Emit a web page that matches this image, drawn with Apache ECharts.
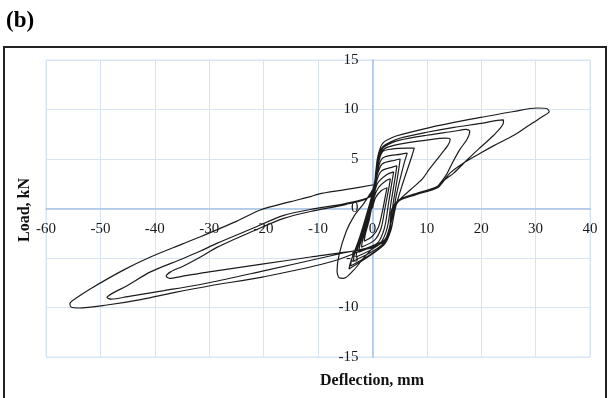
<!DOCTYPE html>
<html>
<head>
<meta charset="utf-8">
<script src="https://cdn.jsdelivr.net/npm/echarts@6/dist/echarts.min.js"></script>
<style>
  html, body { margin: 0; padding: 0; background: #fff; }
  #chart { width: 609px; height: 398px; }
</style>
</head>
<body>
<div id="chart"></div>
<script>
// axis ranges (mm / kN)
const xRange = [-60, 40];
const yRange = [-15, 15];
const xStep = 10;
const yStep = 5;

// small cycles near the origin
const loop1 = [[0,0],[0.6,1.1],[1.6,1.8],[2.7,2.1],[2.4,1.3],[1.8,-0.4],[1.1,-1.9],[0,-2.8],[-1.5,-3.3],[-1.3,-2.6],[-0.6,-1.2],[0.2,0.9]];
const loop2 = [[1.1,2.1],[2.5,2.8],[3.3,3.0],[3.0,2.0],[2.3,0],[1.6,-2.0],[0.4,-3.2],[-2.0,-3.9],[-1.8,-3.2],[-0.9,-1.6],[0.1,0.7]];
const loop3 = [[0.9,2.5],[2.6,3.4],[3.9,3.7],[3.6,2.7],[2.9,0.3],[2.2,-2.0],[0.9,-3.5],[-2.5,-4.4],[-2.3,-3.7],[-1.2,-1.8],[-0.1,0.5]];
const loop4 = [[0.8,2.8],[1.7,3.8],[3.8,4.2],[4.5,4.3],[4.2,3.2],[3.4,0.5],[2.7,-2.0],[1.3,-3.6],[-3.0,-4.9],[-2.8,-4.2],[-1.6,-2.2],[-0.3,0.4]];
const loop5 = [[0.8,3.2],[1.8,4.5],[4.3,4.9],[5.1,5.0],[4.8,3.8],[3.9,0.8],[3.1,-2.0],[1.7,-3.7],[-3.5,-5.3],[-3.3,-4.6],[-1.9,-2.5],[-0.4,0.4]];
const loop6 = [[0.9,3.7],[1.9,5.1],[5.3,5.5],[6.4,5.6],[5.8,4.5],[4.5,1.6],[3.5,-1.3],[2.1,-3.6],[-4.0,-5.8],[-3.8,-5.1],[-2.2,-2.8],[-0.5,0.3]];
const loop7 = [[0.9,4.0],[1.8,5.7],[3.5,6.0],[6.5,6.1],[7.7,6.1],[7.2,5.2],[5.5,2.4],[4.2,0],[3.4,-2.2],[2.1,-3.7],[-4.3,-6.1],[-4.0,-5.4],[-2.4,-3.0],[-0.5,0.5]];

// larger cycles
const loopA = [[0.3,2.2],[0.8,4.3],[1.4,5.5],[2.4,6.1],[5,6.5],[10,6.9],[13.5,7.1],[14.3,7.0],[13.9,6.4],[12.5,5.4],[10.5,4.0],[9.2,3.0],[7,1.9],[5.2,1.0],[4.2,0.2],[3.5,-1.2],[3.1,-2.6],[2.0,-3.4],[0.3,-3.9],[-1.6,-5.0],[-3.4,-6.2],[-5.3,-7.05],[-6.1,-7.0],[-6.5,-6.3],[-6.1,-4.6],[-4.8,-2.3],[-3.4,-0.8],[-1.6,0.5],[-0.4,1.5],[0.3,2.2]];
const loopB = [[0.7,4.1],[1.2,5.4],[1.9,6.1],[3,6.5],[5,6.9],[10,7.4],[15,7.8],[17.2,8.0],[17.9,7.8],[17.4,7.0],[16.0,5.9],[14.6,4.5],[13.7,3.5],[12.8,2.8],[11.7,2.1],[8,1.4],[5,0.8],[3.6,-0.3],[3.2,-2.3],[2.2,-3.2],[0.4,-3.9],[-5,-4.4],[-11.4,-4.9],[-20,-5.6],[-30,-6.4],[-35,-6.85],[-37.3,-7.05],[-37.9,-6.85],[-37.1,-6.4],[-34.7,-5.8],[-31.6,-4.9],[-28.5,-3.9],[-22,-2.3],[-16.3,-1.0],[-11.4,-0.3],[-5,0.4],[-1,1.0],[0.3,2.1]];
const loopC = [[0.8,4.5],[1.3,5.7],[2.0,6.3],[3.2,6.7],[5,7.1],[10,7.7],[15,8.2],[20,8.6],[23,8.9],[24.1,8.95],[24.0,8.5],[22.3,7.4],[19.5,6.0],[17.2,4.8],[15,3.6],[13.3,2.9],[12,2.1],[8,1.4],[5.1,0.85],[3.5,-0.4],[3.1,-2.4],[2.1,-3.3],[0.4,-3.8],[-7,-4.7],[-20,-6.3],[-30,-7.5],[-38.3,-8.3],[-45,-8.9],[-48,-9.15],[-48.8,-9.0],[-47.9,-8.6],[-45.1,-7.8],[-40.8,-6.4],[-35,-5.1],[-31.6,-4.3],[-28.5,-3.5],[-22,-2.0],[-16.3,-0.7],[-11.4,-0.1],[-5,0.5],[-0.4,1.2],[0.3,2.2]];
const loopD = [[0.9,5.0],[1.5,6.2],[2.1,6.7],[3,7.0],[4.5,7.35],[10.7,8.2],[15,8.7],[19.9,9.2],[26,9.8],[30.3,10.15],[32.0,10.1],[32.5,9.8],[31,9.2],[28.5,8.3],[26,7.4],[22.5,6.4],[19.9,5.6],[16.5,4.5],[14.3,3.6],[13.1,2.8],[11.8,2.2],[8,1.5],[5,0.9],[3.5,-0.2],[3.2,-2.3],[2.2,-3.2],[0.3,-3.7],[-7.1,-5.3],[-20,-6.9],[-29.8,-7.8],[-36.5,-8.5],[-42.6,-9.2],[-48.8,-9.75],[-54,-10.05],[-55.4,-9.95],[-55.6,-9.6],[-54.3,-9.0],[-51.8,-8.1],[-45.7,-6.2],[-40.8,-4.9],[-35,-3.6],[-31.6,-2.85],[-25,-1.3],[-20.6,-0.15],[-15,0.7],[-11.4,1.2],[-9.9,1.46],[-5,1.9],[0.25,2.4]];

const loops = [loop1, loop2, loop3, loop4, loop5, loop6, loop7, loopA, loopB, loopC, loopD];
const curve = [].concat(...loops);

const serif = '"Liberation Serif", "Times New Roman", serif';
const gridColor = '#d8e4f2';
const axisColor = '#a6c1e6';

// plot box in px
const gLeft = 46, gTop = 60, gW = 544, gH = 297;
// move the axes so they cross at (0, 0)
const xAxisShift = -gH * (0 - yRange[0]) / (yRange[1] - yRange[0]);
const yAxisShift = -gW * (0 - xRange[0]) / (xRange[1] - xRange[0]);

const chart = echarts.init(document.getElementById('chart'));

chart.setOption({
  backgroundColor: '#fff',
  animation: false,
  grid: {
    left: gLeft, top: gTop, width: gW, height: gH,
    show: true, borderColor: gridColor, borderWidth: 1
  },
  xAxis: {
    type: 'value',
    min: xRange[0], max: xRange[1], interval: xStep,
    position: 'bottom',
    offset: xAxisShift,
    axisLine: { onZero: false, lineStyle: { color: axisColor, width: 1.5 } },
    axisTick: { show: false },
    axisLabel: { color: '#1a1a1a', fontFamily: serif, fontSize: 15, margin: 13 },
    splitLine: { show: true, lineStyle: { color: gridColor, width: 1 } }
  },
  yAxis: {
    type: 'value',
    min: yRange[0], max: yRange[1], interval: yStep,
    position: 'left',
    offset: yAxisShift,
    axisLine: { onZero: false, lineStyle: { color: axisColor, width: 1.5 } },
    axisTick: { show: false },
    axisLabel: { color: '#1a1a1a', fontFamily: serif, fontSize: 15, margin: 14 },
    splitLine: { show: true, lineStyle: { color: gridColor, width: 1 } }
  },
  graphic: [
    {
      type: 'rect', silent: true,
      shape: { x: 4, y: 47, width: 602, height: 380 },
      style: { fill: 'none', stroke: '#222', lineWidth: 2 }
    },
    {
      type: 'text', x: 6, y: 10,
      style: { text: '(b)', font: 'bold 23px ' + serif, fill: '#000' }
    },
    {
      type: 'text', x: 372, y: 381,
      style: {
        text: 'Deflection, mm', font: 'bold 16px ' + serif, fill: '#111',
        textAlign: 'center', textVerticalAlign: 'middle', align: 'center', verticalAlign: 'middle'
      }
    },
    {
      type: 'text', x: 25, y: 210, rotation: Math.PI / 2,
      style: {
        text: 'Load, kN', font: 'bold 16px ' + serif, fill: '#111',
        textAlign: 'center', textVerticalAlign: 'middle', align: 'center', verticalAlign: 'middle'
      }
    }
  ],
  series: [
    {
      type: 'line',
      data: curve,
      showSymbol: false,
      smooth: 0.3,
      lineStyle: { color: '#1c1c1c', width: 1.2 },
      z: 3
    }
  ]
});
</script>
</body>
</html>
